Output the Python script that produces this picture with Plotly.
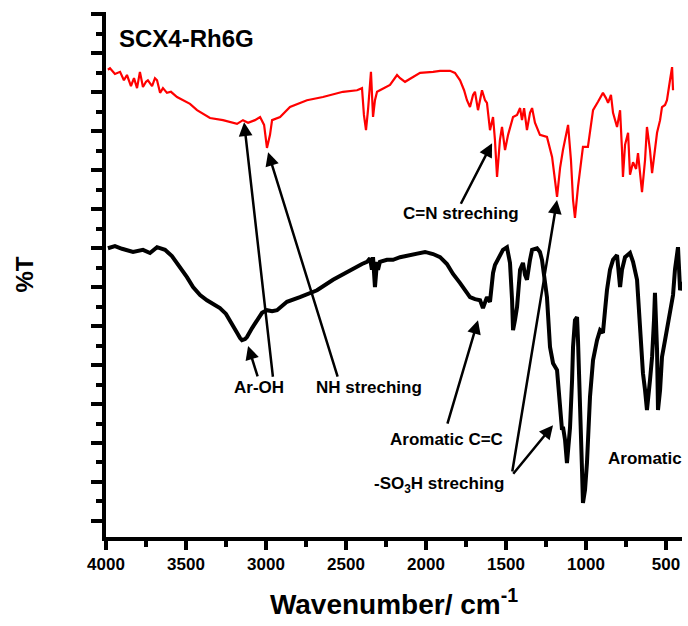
import plotly.graph_objects as go

# ---------------- data (wavenumber in cm^-1, transmittance in arbitrary %T units) -------------
red_wn = [3988, 3975, 3944, 3912, 3888, 3869, 3844, 3825, 3806, 3788, 3769, 3750, 3738, 3712, 3694,
          3681, 3662, 3644, 3619, 3594, 3556, 3519, 3475, 3431, 3381, 3350, 3269, 3181, 3144, 3112,
          3069, 3037, 3012, 2994, 2975, 2962, 2912, 2850, 2744, 2644, 2519, 2431, 2400, 2388, 2375,
          2362, 2344, 2331, 2319, 2306, 2288, 2225, 2181, 2162, 2131, 2037, 1956, 1912, 1850, 1819,
          1787, 1762, 1744, 1725, 1706, 1694, 1675, 1650, 1631, 1619, 1600, 1581, 1569, 1556, 1538,
          1525, 1506, 1487, 1456, 1431, 1412, 1400, 1387, 1369, 1350, 1337, 1319, 1288, 1244, 1212,
          1194, 1181, 1162, 1144, 1112, 1094, 1081, 1069, 1050, 1019, 988, 956, 925, 894, 875,
          862, 844, 831, 806, 787, 775, 769, 756, 737, 725, 706, 687, 675, 650, 631,
          619, 600, 587, 569, 556, 537, 525, 506, 494, 475, 462, 456]
red_t = [89.0, 89.3, 88.2, 88.6, 87.0, 88.0, 85.9, 87.4, 85.5, 88.6, 85.7, 86.7, 87.0, 85.9, 87.4,
         87.0, 84.6, 85.5, 84.6, 84.8, 83.8, 83.2, 82.5, 81.3, 80.4, 79.8, 79.4, 78.7, 79.4, 78.9,
         79.4, 80.0, 78.5, 74.1, 76.6, 79.4, 80.0, 81.9, 83.2, 83.8, 84.8, 85.1, 85.5, 80.4, 77.5,
         81.5, 88.6, 80.0, 83.2, 84.8, 85.1, 86.1, 88.0, 87.4, 86.7, 88.4, 88.6, 88.8, 88.8, 88.4,
         87.0, 85.1, 83.2, 81.9, 84.2, 84.8, 81.3, 85.1, 83.2, 82.7, 77.5, 80.0, 75.6, 68.6, 75.6,
         78.1, 73.7, 76.6, 80.0, 80.4, 81.7, 79.4, 81.7, 77.5, 80.8, 81.7, 78.9, 76.6, 76.2, 72.4,
         68.0, 64.8, 70.3, 73.7, 78.5, 71.8, 64.2, 60.8, 66.7, 74.3, 74.3, 81.3, 82.9, 84.6, 83.6,
         82.7, 84.2, 80.8, 78.1, 81.3, 73.7, 68.6, 74.7, 77.0, 69.0, 71.4, 70.1, 73.1, 65.7, 71.8,
         78.1, 73.7, 69.3, 73.7, 77.0, 79.4, 81.9, 82.3, 83.2, 87.0, 89.5, 85.1]

black_wn = [3988, 3944, 3900, 3831, 3769, 3725, 3681, 3631, 3588, 3538, 3494, 3456, 3412, 3369, 3325,
            3288, 3250, 3225, 3200, 3181, 3162, 3150, 3131, 3119, 3087, 3056, 3025, 2994, 2962, 2931,
            2869, 2788, 2681, 2581, 2456, 2400, 2369, 2350, 2338, 2331, 2319, 2306, 2300, 2288, 2244,
            2206, 2162, 2056, 2006, 1956, 1912, 1869, 1831, 1788, 1756, 1725, 1694, 1662, 1644, 1631,
            1619, 1600, 1581, 1569, 1550, 1519, 1494, 1475, 1462, 1456, 1444, 1431, 1412, 1394, 1381,
            1369, 1350, 1337, 1306, 1288, 1275, 1256, 1244, 1225, 1206, 1181, 1162, 1150, 1144, 1131,
            1119, 1112, 1100, 1087, 1081, 1069, 1056, 1050, 1037, 1025, 1019, 1006, 994, 975, 956,
            931, 912, 894, 881, 869, 850, 831, 806, 787, 775, 756, 725, 706, 681, 662,
            644, 631, 619, 600, 587, 575, 569, 556, 550, 537, 525, 506, 494, 475, 456,
            444, 425, 412, 400]
black_t = [55.0, 55.4, 54.9, 54.3, 54.7, 54.1, 55.2, 54.7, 53.5, 51.4, 49.5, 47.6, 46.1, 45.1, 44.4,
           43.6, 42.5, 41.3, 39.8, 38.9, 37.9, 37.5, 37.7, 38.1, 39.8, 41.3, 42.7, 43.2, 43.0, 43.2,
           44.8, 45.7, 47.0, 49.0, 51.2, 52.0, 52.4, 53.1, 50.9, 53.3, 47.6, 52.4, 50.9, 52.4, 52.8,
           52.8, 53.3, 54.1, 54.3, 53.9, 53.3, 52.0, 50.1, 48.4, 46.9, 45.7, 45.3, 45.1, 43.6, 44.6,
           45.7, 44.8, 50.3, 51.8, 52.8, 54.7, 55.2, 52.2, 45.1, 39.4, 41.3, 43.8, 50.9, 52.2, 49.9,
           49.0, 52.8, 54.7, 55.0, 54.3, 52.8, 49.0, 45.7, 36.2, 33.1, 31.8, 23.6, 20.4, 21.0, 18.5,
           14.1, 16.6, 20.8, 29.9, 36.2, 41.3, 41.9, 37.5, 26.7, 12.8, 6.5, 9.0, 14.1, 26.7, 33.7,
           37.5, 39.4, 38.9, 43.2, 47.0, 50.9, 52.8, 53.7, 47.6, 50.9, 53.3, 54.1, 52.4, 49.0, 39.4,
           31.2, 28.0, 24.2, 29.9, 34.3, 41.3, 46.5, 35.6, 24.2, 28.0, 34.3, 37.5, 39.4, 42.7, 46.1,
           50.9, 55.2, 47.0, 48.6]

x_ticks = [4000, 3500, 3000, 2500, 2000, 1500, 1000, 500]

# labels: (text, wavenumber, %T)
labels = [
    ("Ar-OH", 3044, 28.4),
    ("NH streching", 2356, 28.4),
    ("C=N streching", 1781, 61.7),
    ("Aromatic C=C", 1869, 18.5),
    ("-SO<sub>3</sub>H streching", 1919, 9.9),
    ("Aromatic", 631, 15.0),
]
# arrows: (head wavenumber, head %T, tail offset x px, tail offset y px)
arrows = [
    (3112, 36.4, 10, 32),
    (3137, 79.0, 29, 256),
    (2987, 73.3, 70, 226),
    (1587, 75.0, -32, 62),
    (1181, 64.2, -45, 273),
    (1206, 21.3, -41, 50),
    (1675, 41.3, -31, 105),
]

FONT = "Liberation Sans, Arial, sans-serif"

fig = go.Figure()
fig.add_trace(go.Scatter(x=red_wn, y=red_t, mode="lines",
                         line=dict(color="#ff0000", width=2.2), showlegend=False))
fig.add_trace(go.Scatter(x=black_wn, y=black_t, mode="lines",
                         line=dict(color="#000000", width=4), showlegend=False))

for text, wx, ty in labels:
    fig.add_annotation(x=wx, y=ty, text=text, showarrow=False,
                       font=dict(family=FONT, size=17, color="black", weight="bold"),
                       xanchor="center", yanchor="middle")

for hx, hy, ox, oy in arrows:
    fig.add_annotation(x=hx, y=hy, text="", showarrow=True, ax=ox, ay=oy,
                       arrowhead=2, arrowsize=1.1, arrowwidth=2.5, arrowcolor="black",
                       standoff=0, startstandoff=0)

fig.add_annotation(x=3931, y=95, text="SCX4-Rh6G", showarrow=False,
                   font=dict(family=FONT, size=24, color="black", weight="bold"),
                   xanchor="left", yanchor="middle")

fig.update_layout(
    width=688, height=626,
    margin=dict(l=106, r=6, t=12, b=89),
    paper_bgcolor="white", plot_bgcolor="white",
    font=dict(family=FONT, color="black"),
    xaxis=dict(
        range=[4000, 400], tickvals=x_ticks, ticktext=[str(v) for v in x_ticks],
        showgrid=False, zeroline=False,
        showline=True, linecolor="black", linewidth=4, mirror=False,
        ticks="outside", ticklen=9, tickwidth=4, tickcolor="black",
        tickfont=dict(family=FONT, size=17, color="black", weight="bold"),
        minor=dict(dtick=250, tick0=0, ticks="outside", ticklen=6, tickwidth=4, tickcolor="black"),
        title=dict(text="Wavenumber/ cm<sup>-1</sup>", standoff=22,
                   font=dict(family=FONT, size=28, color="black", weight="bold")),
    ),
    yaxis=dict(
        range=[0, 100], showgrid=False, zeroline=False,
        showline=True, linecolor="black", linewidth=4, mirror=False,
        tickmode="linear", tick0=3.05, dtick=7.43, showticklabels=False,
        ticks="outside", ticklen=11, tickwidth=4, tickcolor="black",
        minor=dict(tick0=3.05, dtick=3.714, ticks="outside", ticklen=6, tickwidth=4, tickcolor="black"),
        title=dict(text="%T", standoff=52,
                   font=dict(family=FONT, size=24, color="black", weight="bold")),
    ),
)

fig.write_html("out.html")
